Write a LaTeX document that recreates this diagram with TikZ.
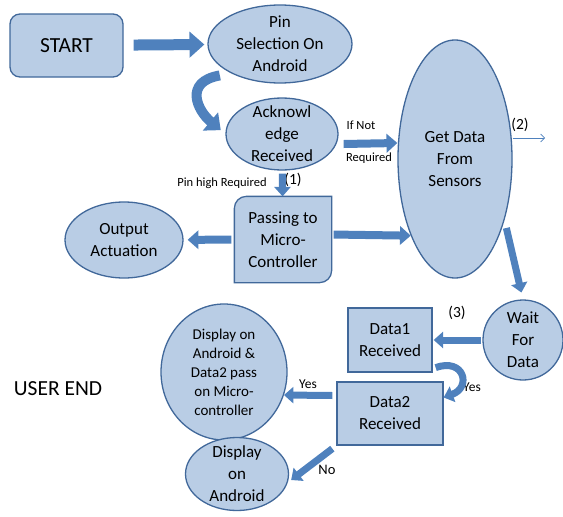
\documentclass[tikz,border=0pt]{standalone}
\usepackage{fontspec}
\setmainfont{Carlito}
\usetikzlibrary{arrows.meta,shapes.geometric,backgrounds}

\definecolor{boxfill}{HTML}{B9CDE5}
\definecolor{boxline}{HTML}{41689A}
\definecolor{arrowblue}{HTML}{4F81BD}

\tikzset{
    box/.style={draw=boxline, fill=boxfill, line width=1.3pt, align=center,
        inner sep=0pt, font=\fontsize{17}{22}\selectfont},
    oval/.style={box, ellipse, inner sep=-30pt},
    block/.style={line width=#1, arrowblue,
        -{Triangle[length=0pt 1.35, width=0pt 2.3]}},
    block/.default=8pt,
    thinarrow/.style={arrowblue, line width=0.6pt,
        -{Straight Barb[length=4pt, width=8pt]}},
    tag/.style={inner sep=0pt, font=\fontsize{12.5}{14}\selectfont},
    num/.style={inner sep=0pt, font=\fontsize{15.5}{18}\selectfont},
}

\begin{document}
\begin{tikzpicture}[x=1pt, y=-1pt]
    \useasboundingbox (0,0) rectangle (563,517);

    % boxes
    \node[box, rounded corners=10pt, minimum width=113pt, minimum height=63pt,
        font=\fontsize{21.5}{24}\selectfont] (start) at (66.5,45.5) {START};
    \node[oval, minimum width=144pt, minimum height=78pt] (pin) at (280,44) {Pin\\Selection On\\Android};
    \node[oval, minimum width=112pt, minimum height=72pt] (ack) at (282,134) {Acknowl\\edge\\Received};
    \node[oval, minimum width=114pt, minimum height=238pt] (getdata) at (455,159) {Get Data\\From\\Sensors};
    \node[box, draw=none, fill=none, minimum width=96pt, minimum height=85pt] (passing) at (283,239.5) {Passing to\\Micro-\\Controller};
    \node[oval, minimum width=118pt, minimum height=76pt] (output) at (124,240) {Output\\Actuation};
    \node[oval, minimum width=80pt, minimum height=80pt] (wait) at (523,340) {Wait\\For\\Data};
    \node[box, minimum width=84pt, minimum height=64pt] (dataone) at (390,340) {Data1\\Received};
    \node[box, minimum width=106pt, minimum height=63pt] (datatwo) at (390,413.5) {Data2\\Received};
    \node[oval, minimum width=126pt, minimum height=136pt,
        font=\fontsize{15}{19}\selectfont] (dispone) at (224,372) {Display on\\Android \&\\Data2 pass\\on Micro-\\controller};
    \node[oval, minimum width=103pt, minimum height=73pt] (disptwo) at (237,474) {Display\\on\\Android};
    \node[inner sep=0pt, font=\fontsize{21.5}{24}\selectfont] (userend) at (58,389) {USER END};

    \begin{scope}[on background layer]
        \draw[box] (passing.south west) -- ([yshift=-12pt]passing.north west)
            arc[start angle=180, end angle=90, radius=12pt] -- (passing.north east)
            -- ([yshift=12pt]passing.south east)
            arc[start angle=0, end angle=-90, radius=12pt] -- cycle;
    \end{scope}

    % labels
    \node[tag] (ifnot) at (361,125) {If Not};
    \node[tag] (notreq) at (369,158) {Required};
    \node[tag] (pinhigh) at (222,183) {Pin high Required};
    \node[tag, font=\fontsize{13.5}{16}\selectfont] (yesone) at (472,387) {Yes};
    \node[tag, font=\fontsize{13.5}{16}\selectfont] (yestwo) at (308,384) {Yes};
    \node[tag, font=\fontsize{14.5}{16}\selectfont] (no) at (327,470) {No};
    \node[num] (one) at (293,180) {(1)};
    \node[num] (two) at (520,125) {(2)};
    \node[num] (three) at (457,313) {(3)};
    \coordinate (twoend) at (545,138);

    % arrows
    \draw[block=11pt, shorten <=10pt, shorten >=3pt] (start) -- (pin);
    \draw[block=10pt, shorten >=6pt] ([xshift=-6pt,yshift=-5pt]pin.206) to[out=190, in=140, looseness=1.6] (ack.180);
    \draw[block=7pt, shorten <=3pt] (ack) -- (passing);
    \draw[block=8pt] ([xshift=5pt,yshift=-10pt]ack.east) -- ([yshift=16pt]getdata.west);
    \draw[thinarrow] ([yshift=21pt]getdata.east) -- (twoend);
    \draw[block=8pt, shorten <=2pt] ([yshift=5pt]passing.east) -- (getdata.240);
    \draw[block=8pt, shorten <=3pt, shorten >=4pt] (passing) -- (output);
    \draw[block=7pt, shorten <=8pt, shorten >=7pt] (getdata.-51) -- (wait.north);
    \draw[block=7pt, shorten <=1pt, shorten >=1pt] (wait) -- (dataone);
    \draw[block=7pt] ([xshift=3pt,yshift=5pt]dataone.south east) to[out=20, in=20, looseness=2.5] ([yshift=16pt]datatwo.east);
    \draw[block=7pt] ([xshift=-4pt,yshift=18pt]datatwo.west) -- (dispone.-21);
    \draw[block=7pt] ([xshift=-4pt,yshift=-3pt]datatwo.south west) -- ([xshift=2pt,yshift=-6pt]disptwo.east);
\end{tikzpicture}
\end{document}
